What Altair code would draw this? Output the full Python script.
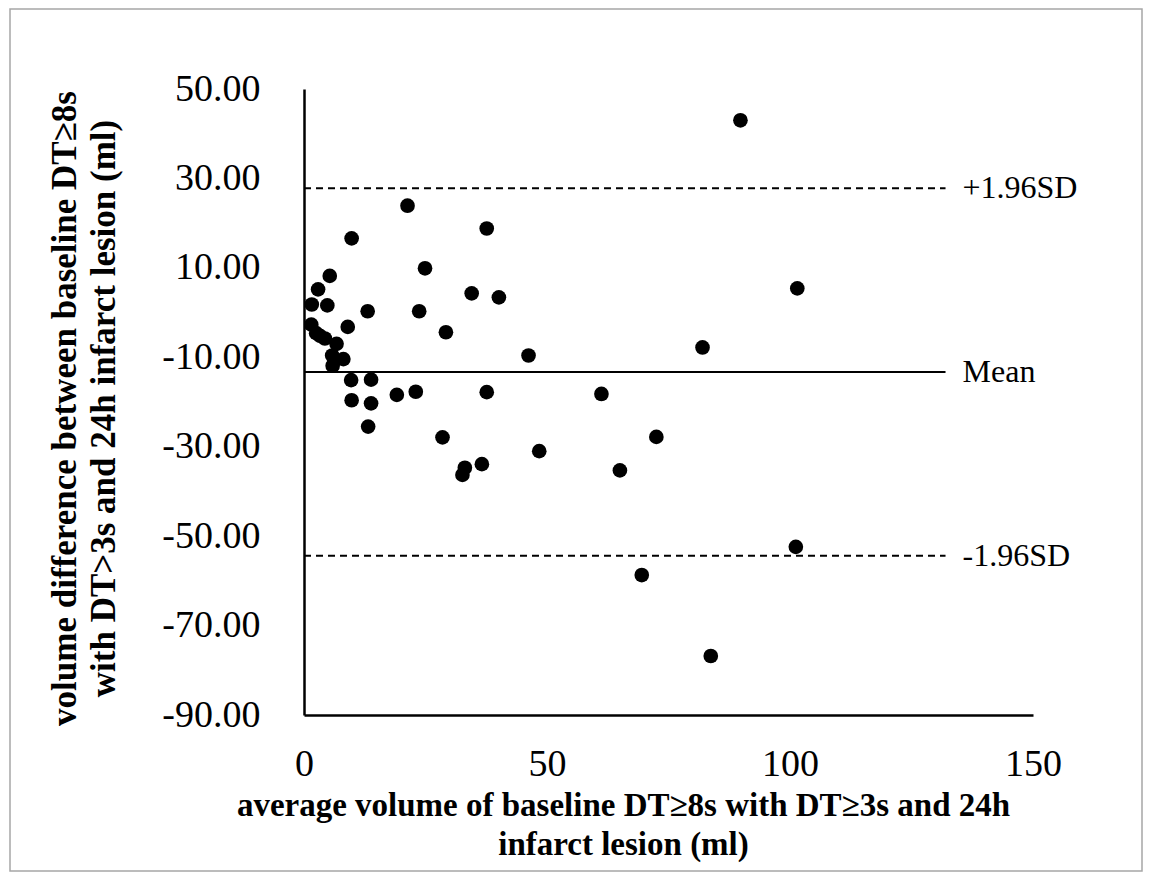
import altair as alt
import pandas as pd

# ---- data ----
avg_volume = [21.3, 37.6, 9.8, 24.9, 5.3, 2.9, 34.5, 40.1, 1.6, 4.8,
              13.1, 23.7, 9.0, 29.2, 1.5, 2.5, 3.3, 4.3, 6.7, 5.8,
              8.1, 5.9, 46.2, 9.7, 13.8, 19.1, 23.0, 37.6, 9.8, 13.8,
              13.2, 28.5, 48.4, 36.6, 33.1, 32.6,
              89.8, 101.5, 82.0, 61.2, 72.5, 65.0, 101.2, 69.5, 83.7]
vol_diff = [23.9, 18.8, 16.6, 9.9, 8.2, 5.2, 4.3, 3.4, 1.8, 1.6,
            0.3, 0.3, -3.2, -4.4, -2.7, -4.6, -5.2, -5.8, -7.0, -9.6,
            -10.4, -11.9, -9.6, -15.1, -15.0, -18.4, -17.7, -17.8, -19.6, -20.3,
            -25.5, -27.9, -31.0, -33.9, -34.7, -36.3,
            43.0, 5.4, -7.8, -18.2, -27.8, -35.3, -52.4, -58.7, -76.8]

line_names = ["+1.96SD", "Mean", "-1.96SD"]
line_values = [27.8, -13.3, -54.4]
line_dashed = [True, False, True]
line_x_start = 0
line_x_end = 132

x_ticks = [0, 50, 100, 150]
y_ticks = [-90, -70, -50, -30, -10, 10, 30, 50]

x_title = ["average volume of baseline DT\u22658s with DT\u22653s and 24h", "infarct lesion (ml)"]
y_title = ["volume difference between baseline DT\u22658s", "with DT>3s and 24h infarct lesion (ml)"]

pts = pd.DataFrame({"avg": avg_volume, "diff": vol_diff})
lines = pd.DataFrame({"name": line_names, "diff": line_values, "dashed": line_dashed,
                      "avg": [line_x_start] * 3, "avg2": [line_x_end] * 3})

SERIF = "Liberation Serif"
W, H = 729, 626

xscale = alt.Scale(domain=[0, 150], nice=False, zero=False)
yscale = alt.Scale(domain=[-90, 50], nice=False, zero=False)

x_axis = alt.Axis(values=x_ticks, ticks=False, grid=False, domainColor="black", domainWidth=2.5,
                  labelFont=SERIF, labelFontSize=38, labelColor="black", labelPadding=30,
                  labelFlush=False, title=x_title, titleFont=SERIF, titleFontSize=33,
                  titleFontWeight="bold", titleColor="black", titleX=319, titleY=90,
                  titleAlign="center", titleBaseline="middle", titleLineHeight=39)
y_axis = alt.Axis(values=y_ticks, ticks=False, grid=False, domainColor="black", domainWidth=2.5,
                  labelFont=SERIF, labelFontSize=38, labelColor="black", labelPadding=44,
                  labelExpr="datum.value < 0 ? '-' + format(abs(datum.value), '.2f') : format(datum.value, '.2f')",
                  title=y_title, titleFont=SERIF, titleFontSize=35, titleFontWeight="bold",
                  titleColor="black", titleX=-240, titleY=319, titleAngle=270,
                  titleAlign="center", titleBaseline="middle", titleLineHeight=39)

points = alt.Chart(pts).mark_circle(size=215, color="black", opacity=1).encode(
    x=alt.X("avg:Q", scale=xscale, axis=x_axis),
    y=alt.Y("diff:Q", scale=yscale, axis=y_axis),
)

mean_line = alt.Chart(lines).transform_filter("!datum.dashed").mark_rule(
    color="black", strokeWidth=2).encode(
    x=alt.X("avg:Q", scale=xscale), x2="avg2:Q", y=alt.Y("diff:Q", scale=yscale))

sd_lines = alt.Chart(lines).transform_filter("datum.dashed").mark_rule(
    color="black", strokeWidth=2, strokeDash=[7, 5]).encode(
    x=alt.X("avg:Q", scale=xscale), x2="avg2:Q", y=alt.Y("diff:Q", scale=yscale))

labels = alt.Chart(lines).mark_text(align="left", baseline="middle", dx=17, font=SERIF,
                                    fontSize=32, color="black").encode(
    x=alt.X("avg2:Q", scale=xscale), y=alt.Y("diff:Q", scale=yscale), text="name:N")

border = alt.Chart(pd.DataFrame({"a": [0]})).mark_rect(
    filled=False, stroke="#a6a6a6", strokeWidth=1.5).encode(
    x=alt.value(-294), x2=alt.value(838), y=alt.value(-80), y2=alt.value(782))

chart = alt.layer(border, sd_lines, mean_line, points, labels).properties(
    width=W, height=H,
    autosize=alt.AutoSizeParams(type="none"),
    padding={"left": 296, "top": 81, "right": 110, "bottom": 158},
    background="white",
).configure_view(stroke=None)

chart.save("out.html", embed_options={"renderer": "svg", "actions": False})
